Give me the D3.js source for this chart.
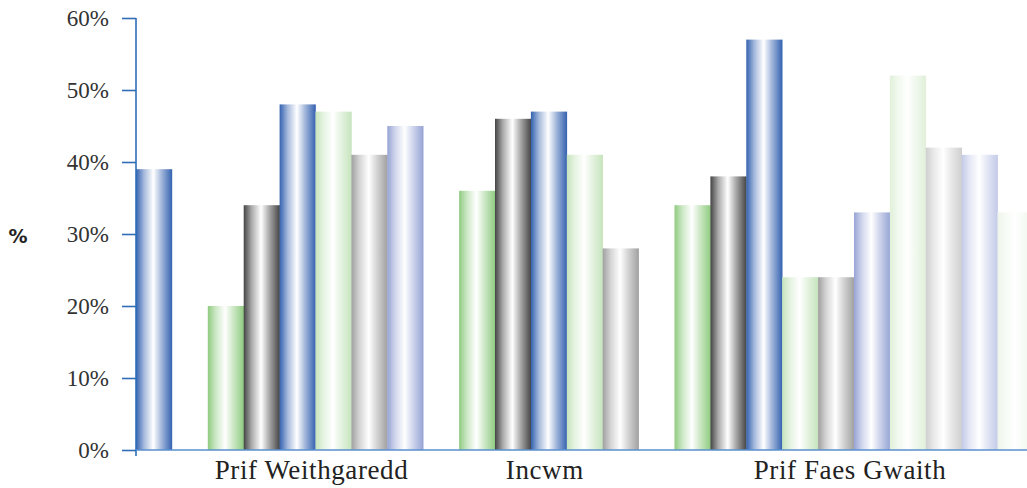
<!DOCTYPE html>
<html>
<head>
<meta charset="utf-8">
<script src="https://cdn.jsdelivr.net/npm/d3@7"></script>
<style>
  html, body { margin: 0; padding: 0; background: #fff; }
  svg { display: block; }
</style>
</head>
<body>
<svg id="chart" width="1027" height="488"></svg>
<script>
// ---- data ----
const categories = ["", "Prif Weithgaredd", "Incwm", "Prif Faes Gwaith"];
// values per category, in series order (null = bar absent)
const series0 = [null, 20, 36, 34];
const series1 = [null, 34, 46, 38];
const series2 = [39, 48, 47, 57];
const series3 = [null, 47, 41, 24];
const series4 = [null, 41, 28, 24];
const series5 = [null, 45, null, 33];
const series6 = [null, null, null, 52];
const series7 = [null, null, null, 42];
const series8 = [null, null, null, 41];
const series9 = [null, null, null, 33];
const yTicks = [0, 10, 20, 30, 40, 50, 60];
const yTickLabels = ["0%", "10%", "20%", "30%", "40%", "50%", "60%"];
const seriesColors = ["#8fcb80", "#444444", "#3462b0", "#c6e4bc", "#a0a0a0",
                      "#97a4d5", "#e0f0da", "#cfcfcf", "#c4cae8", "#edf5e9"];

const allSeries = [series0, series1, series2, series3, series4,
                   series5, series6, series7, series8, series9];

(function () {
// ---- layout slots derived from data ----
const slots = [];      // {cat, s, v}
const groupSpans = []; // [startSlot, endSlot)
categories.forEach((c, ci) => {
  if (ci > 0) slots.push(null); // gap slot between groups
  const start = slots.length;
  allSeries.forEach((ser, si) => {
    if (ser[ci] != null) slots.push({cat: ci, s: si, v: ser[ci]});
  });
  groupSpans.push([start, slots.length]);
});

const svg = d3.select("#chart");
const mLeft = 136, mTop = 18, mBottom = 450;
const slotW = 35.9;

const x = d3.scaleBand()
  .domain(d3.range(slots.length))
  .range([mLeft, mLeft + slotW * slots.length])
  .paddingInner(0).paddingOuter(0);

const y = d3.scaleLinear().domain([0, 60]).range([mBottom, mTop]);

// gradients
const defs = svg.append("defs");
seriesColors.forEach((c, i) => {
  const g = defs.append("linearGradient")
    .attr("id", "g" + i).attr("x1", "0%").attr("x2", "100%")
    .attr("y1", "0%").attr("y2", "0%");
  const white = "#ffffff";
  const mix = (t) => d3.interpolateRgb(c, white)(t);
  g.append("stop").attr("offset", "0%").attr("stop-color", c);
  g.append("stop").attr("offset", "22%").attr("stop-color", mix(0.55));
  g.append("stop").attr("offset", "48%").attr("stop-color", white);
  g.append("stop").attr("offset", "70%").attr("stop-color", mix(0.55));
  g.append("stop").attr("offset", "100%").attr("stop-color", c);
});

// bars
const bars = slots.map((d, i) => d ? Object.assign({i}, d) : null).filter(d => d);
svg.append("g").selectAll("rect").data(bars).enter().append("rect")
  .attr("x", d => x(d.i))
  .attr("width", x.bandwidth() + 0.3)
  .attr("y", d => y(d.v))
  .attr("height", d => y(0) - y(d.v))
  .attr("fill", d => "url(#g" + d.s + ")");

// y axis
const yAxis = d3.axisLeft(y).tickValues(yTicks)
  .tickFormat((d, i) => yTickLabels[i]).tickSize(14).tickPadding(13);
const yg = svg.append("g").attr("transform", `translate(${mLeft},0)`).call(yAxis);
yg.select(".domain").remove();
yg.selectAll(".tick line").attr("stroke", "#2f6db8").attr("stroke-width", 1.6);
yg.selectAll(".tick text")
  .attr("font-family", "'Liberation Serif', serif")
  .attr("font-size", 23).attr("fill", "#333");
svg.append("line").attr("x1", mLeft).attr("x2", mLeft)
  .attr("y1", mTop).attr("y2", mBottom + 6)
  .attr("stroke", "#2f6db8").attr("stroke-width", 1.6);

// x axis baseline
svg.append("line").attr("x1", mLeft).attr("x2", 1027)
  .attr("y1", mBottom).attr("y2", mBottom)
  .attr("stroke", "#5a8fcf").attr("stroke-width", 1.6);

// category labels
svg.append("g").selectAll("text").data(categories.map((c, i) => ({c, span: groupSpans[i]})).filter(d => d.c))
  .enter().append("text")
  .attr("x", d => (x(d.span[0]) + x(d.span[1] - 1) + x.bandwidth()) / 2 - 4)
  .attr("y", 479)
  .attr("text-anchor", "middle")
  .attr("font-family", "'Liberation Serif', serif")
  .attr("font-size", 27).attr("letter-spacing", 0.6).attr("fill", "#222")
  .text(d => d.c);

// y title
svg.append("text").attr("x", 18).attr("y", 243)
  .attr("text-anchor", "middle")
  .attr("font-family", "'DejaVu Sans', sans-serif")
  .attr("font-weight", "bold").attr("font-size", 19).attr("fill", "#222")
  .text("%");
})();
</script>
</body>
</html>
